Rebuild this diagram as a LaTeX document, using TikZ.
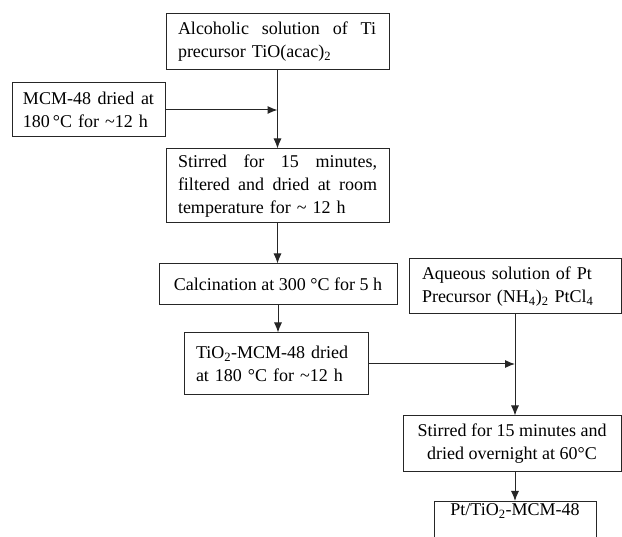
\documentclass[tikz,border=0pt]{standalone}
\usepackage{fontspec}
\setmainfont{Liberation Serif}
\usetikzlibrary{positioning,arrows.meta,calc}

\begin{document}
\begin{tikzpicture}[x=1pt,y=-1pt,
		stepbox/.style={draw=black!85, line width=1pt, inner xsep=12pt, inner ysep=3pt,
		font=\fontsize{18}{23}\selectfont},
		flow/.style={draw=black!85, line width=1pt, -{Latex[length=10pt,width=8pt]}}]
		\clip (0,0) rectangle (622,537);
		% Ti branch
		\node[stepbox, text width=199pt, minimum height=56pt, align=left] (alcsol) at (277.5,42)
			{\makebox[198pt][s]{Alcoholic\hfill solution\hfill of\hfill Ti}\\precursor TiO(acac)\textsubscript{2}};
		\node[stepbox, inner xsep=11pt, text width=131pt, minimum height=54pt, align=left] (mcmdry) at (88.5,110)
			{\makebox[131pt][s]{MCM-48\hfill dried\hfill at}\\180\,°C for \textasciitilde12 h};
		\node[stepbox, text width=199pt, minimum height=74pt, align=left] (stirone) at (277.5,186)
			{\makebox[199pt][s]{Stirred\hfill for\hfill 15\hfill minutes,}\\\makebox[199pt][s]{filtered\hfill and\hfill dried\hfill at\hfill room}\\temperature for \textasciitilde{} 12 h};
		\node[stepbox, minimum width=238pt, minimum height=41pt, align=center] (calcin) at (278,284.5)
			{Calcination at 300 °C for 5 h};
		\node[stepbox, text width=160pt, minimum height=62pt, align=left] (tidry) at (276,364)
			{TiO\textsubscript{2}-MCM-48 dried\\at 180 °C for \textasciitilde12 h};
		% Pt branch
		\node[stepbox, inner xsep=13pt, text width=186pt, minimum height=55pt, align=left] (ptsol) at (515,286.5)
			{Aqueous solution of Pt\\Precursor (NH\textsubscript{4})\textsubscript{2} PtCl\textsubscript{4}};
		\node[stepbox, minimum width=218pt, minimum height=56pt, align=center] (stirtwo) at (512,444)
			{Stirred for 15 minutes and\\dried overnight at 60°C};
		\node[stepbox, minimum width=162pt, inner ysep=2pt, text depth=30pt, anchor=north] (ptfinal) at (515,501)
			{Pt/TiO\textsubscript{2}-MCM-48};
		% connectors
		\coordinate (tijoin) at (alcsol.south |- mcmdry.east);
		\coordinate (ptjoin) at (ptsol.south |- tidry.east);
		\draw[flow] (alcsol.south) -- (alcsol.south |- stirone.north);
		\draw[flow] (mcmdry.east) -- (tijoin);
		\draw[flow] (stirone.south) -- (stirone.south |- calcin.north);
		\draw[flow] (calcin.south) -- (calcin.south |- tidry.north);
		\draw[flow] (tidry.east) -- (ptjoin);
		\draw[flow] (ptsol.south) -- (ptsol.south |- stirtwo.north);
		\draw[flow] (stirtwo.south -| ptfinal.north) -- (ptfinal.north);
	\end{tikzpicture}
\end{document}
